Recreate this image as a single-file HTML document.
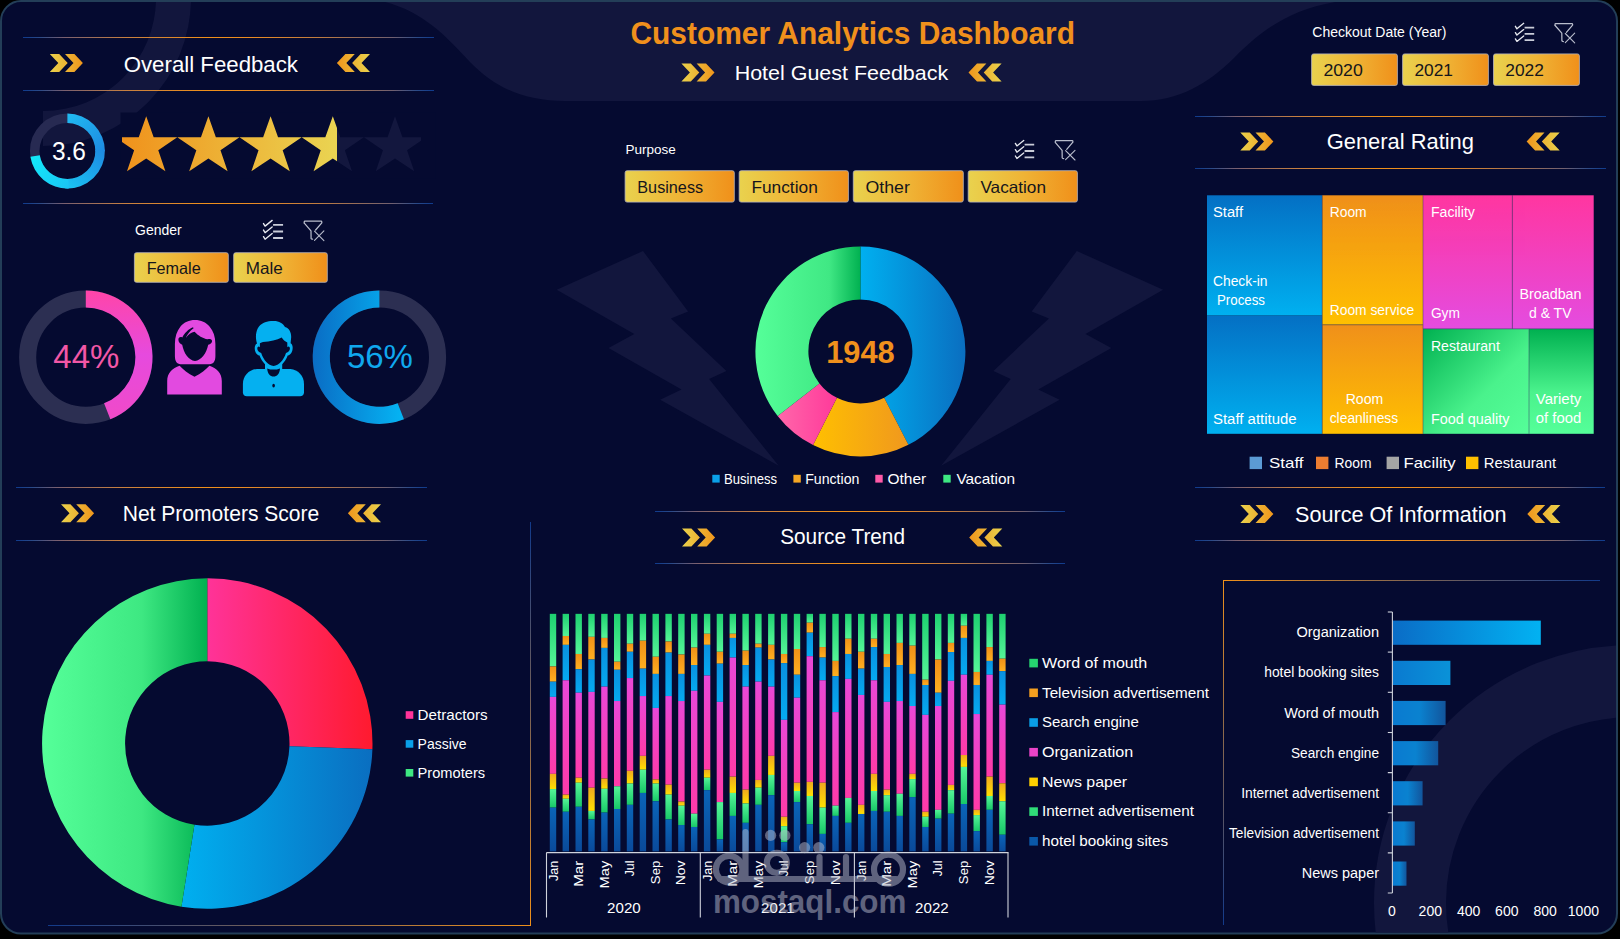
<!DOCTYPE html><html><head><meta charset="utf-8"><style>
html,body{margin:0;padding:0;background:#000;width:1620px;height:939px;overflow:hidden}
svg{display:block;position:absolute;left:0;top:0}
text{font-family:"Liberation Sans",sans-serif}
</style></head><body>
<svg width="1620" height="939" viewBox="0 0 1620 939">
<defs>
<clipPath id="dash"><rect x="2" y="2" width="1614" height="930.6" rx="19"/></clipPath>
<linearGradient id="divg" x1="0" x2="1" y1="0" y2="0">
 <stop offset="0" stop-color="#0f3a8c"/><stop offset="0.04" stop-color="#2a4a88"/><stop offset="0.1" stop-color="#7a6070"/><stop offset="0.25" stop-color="#c88040"/><stop offset="0.45" stop-color="#f0901a"/>
 <stop offset="0.55" stop-color="#ec8c22"/><stop offset="0.72" stop-color="#c07c40"/><stop offset="0.9" stop-color="#706070"/><stop offset="0.96" stop-color="#2a4a88"/><stop offset="1" stop-color="#0f3a8c"/></linearGradient>
<linearGradient id="chevR" x1="0" x2="1"><stop offset="0" stop-color="#ead24c"/><stop offset="1" stop-color="#f0961c"/></linearGradient>
<linearGradient id="chevL" x1="0" x2="1"><stop offset="0" stop-color="#f0961c"/><stop offset="1" stop-color="#ead24c"/></linearGradient>
<linearGradient id="btn" x1="0" x2="1" y1="0" y2="0"><stop offset="0" stop-color="#e9d24e"/><stop offset="0.5" stop-color="#efb436"/><stop offset="1" stop-color="#f0901a"/></linearGradient>
<linearGradient id="starg" gradientUnits="userSpaceOnUse" x1="122" x2="337" y1="0" y2="0"><stop offset="0" stop-color="#f0921c"/><stop offset="1" stop-color="#ead452"/></linearGradient>
<linearGradient id="ring36" gradientUnits="userSpaceOnUse" x1="100" y1="120" x2="35" y2="180"><stop offset="0" stop-color="#1e80e0"/><stop offset="1" stop-color="#14e6fa"/></linearGradient>
<linearGradient id="pinkarc" gradientUnits="userSpaceOnUse" x1="0" y1="290" x2="0" y2="420"><stop offset="0" stop-color="#ff45a8"/><stop offset="0.5" stop-color="#e64ade"/><stop offset="1" stop-color="#f04ac8"/></linearGradient>
<linearGradient id="bluearc" gradientUnits="userSpaceOnUse" x1="312" y1="0" x2="400" y2="0"><stop offset="0" stop-color="#0a6cc4"/><stop offset="1" stop-color="#05b2f2"/></linearGradient>
<linearGradient id="npsRed" gradientUnits="userSpaceOnUse" x1="207" x2="373" y1="0" y2="0"><stop offset="0" stop-color="#ff3399"/><stop offset="1" stop-color="#ff1a2e"/></linearGradient>
<linearGradient id="npsBlue" gradientUnits="userSpaceOnUse" x1="180" x2="373" y1="0" y2="0"><stop offset="0" stop-color="#00b0f0"/><stop offset="1" stop-color="#0a6ec0"/></linearGradient>
<linearGradient id="npsGreen" gradientUnits="userSpaceOnUse" x1="42" x2="208" y1="0" y2="0"><stop offset="0" stop-color="#55ff99"/><stop offset="0.6" stop-color="#3ee882"/><stop offset="1" stop-color="#00b050"/></linearGradient>
<linearGradient id="dBlue" gradientUnits="userSpaceOnUse" x1="860" x2="966" y1="0" y2="0"><stop offset="0" stop-color="#00b0f0"/><stop offset="1" stop-color="#0a6ec0"/></linearGradient>
<linearGradient id="dYel" gradientUnits="userSpaceOnUse" x1="812" x2="908" y1="0" y2="0"><stop offset="0" stop-color="#ffc000"/><stop offset="1" stop-color="#f0981e"/></linearGradient>
<linearGradient id="dPink" gradientUnits="userSpaceOnUse" x1="778" x2="836" y1="0" y2="0"><stop offset="0" stop-color="#ff66aa"/><stop offset="1" stop-color="#ff3a9a"/></linearGradient>
<linearGradient id="dGreen" gradientUnits="userSpaceOnUse" x1="755" x2="861" y1="0" y2="0"><stop offset="0" stop-color="#55ff99"/><stop offset="0.7" stop-color="#40e884"/><stop offset="1" stop-color="#00b050"/></linearGradient>
<linearGradient id="tmBlue" x1="0" x2="0" y1="0" y2="1"><stop offset="0" stop-color="#0470c4"/><stop offset="1" stop-color="#00b0f0"/></linearGradient>
<linearGradient id="tmOrange" x1="0" x2="0" y1="0" y2="1"><stop offset="0" stop-color="#f0901a"/><stop offset="1" stop-color="#ffc000"/></linearGradient>
<linearGradient id="tmPink" x1="0" x2="0" y1="0" y2="1"><stop offset="0" stop-color="#ff36a0"/><stop offset="1" stop-color="#e44ce0"/></linearGradient>
<linearGradient id="tmGreen" x1="0" x2="1" y1="0" y2="1"><stop offset="0" stop-color="#00b050"/><stop offset="0.6" stop-color="#4af28c"/><stop offset="1" stop-color="#55ff99"/></linearGradient>
<linearGradient id="tmGreen2" x1="0" x2="0" y1="0" y2="1"><stop offset="0" stop-color="#00b050"/><stop offset="0.6" stop-color="#4af28c"/><stop offset="1" stop-color="#55ff99"/></linearGradient>
<linearGradient id="frameV" x1="0" x2="0" y1="0" y2="1"><stop offset="0" stop-color="#123a8a"/><stop offset="1" stop-color="#f0901a"/></linearGradient>
<linearGradient id="frameH" x1="0" x2="1" y1="0" y2="0"><stop offset="0" stop-color="#123a8a"/><stop offset="1" stop-color="#f0901a"/></linearGradient>
<linearGradient id="frameV2" x1="0" x2="0" y1="0" y2="1"><stop offset="0" stop-color="#f0901a"/><stop offset="1" stop-color="#123a8a"/></linearGradient>
<linearGradient id="frameH2" x1="0" x2="1" y1="0" y2="0"><stop offset="0" stop-color="#f0901a"/><stop offset="1" stop-color="#123a8a"/></linearGradient>
<linearGradient id="gWoM" x1="0" x2="0" y1="0" y2="1"><stop offset="0" stop-color="#1ed070"/><stop offset="1" stop-color="#55f598"/></linearGradient>
<linearGradient id="gTV" x1="0" x2="0" y1="0" y2="1"><stop offset="0" stop-color="#f09018"/><stop offset="1" stop-color="#ffb020"/></linearGradient>
<linearGradient id="gSE" x1="0" x2="0" y1="0" y2="1"><stop offset="0" stop-color="#0a90e0"/><stop offset="1" stop-color="#05aaf0"/></linearGradient>
<linearGradient id="gOrg" x1="0" x2="0" y1="0" y2="1"><stop offset="0" stop-color="#e848d8"/><stop offset="1" stop-color="#ff3aa8"/></linearGradient>
<linearGradient id="gNP" x1="0" x2="0" y1="0" y2="1"><stop offset="0" stop-color="#f0a820"/><stop offset="1" stop-color="#ffe000"/></linearGradient>
<linearGradient id="gIA" x1="0" x2="0" y1="0" y2="1"><stop offset="0" stop-color="#55f598"/><stop offset="1" stop-color="#18c868"/></linearGradient>
<linearGradient id="gHBS" x1="0" x2="0" y1="0" y2="1"><stop offset="0" stop-color="#0a64b8"/><stop offset="1" stop-color="#0a4a9a"/></linearGradient>
<linearGradient id="soiOrg" gradientUnits="userSpaceOnUse" x1="1392" x2="1541" y1="0" y2="0"><stop offset="0" stop-color="#0a6cc6"/><stop offset="1" stop-color="#02b2f2"/></linearGradient>
<linearGradient id="soiB" x1="0" x2="1" y1="0" y2="0"><stop offset="0" stop-color="#0a7ad0"/><stop offset="0.5" stop-color="#0a82d0"/><stop offset="1" stop-color="#12559c"/></linearGradient>
<linearGradient id="soiB2" x1="0" x2="1" y1="0" y2="0"><stop offset="0" stop-color="#0a7ad0"/><stop offset="1" stop-color="#0a92d8"/></linearGradient>
</defs>
<rect x="1" y="1" width="1616" height="932.6" rx="20" fill="#050a30" stroke="#233e58" stroke-width="2"/>
<g clip-path="url(#dash)">

<path d="M191,-2 A148,148 0 0 1 43,146 L43,111 A113,113 0 0 0 156,-2 Z" fill="#12163d"/>
<path d="M376,0 C420,8 445,35 470,62 C495,88 525,101 565,101 L1141,101 C1178,101 1208,84 1234,58 C1262,30 1292,6 1350,0 Z" fill="#12163d"/>
<polygon points="556.7,289.8 643,251 688.1,311.4 670.9,318.6 726.4,370.9 709.1,379 778.7,465.8 660.2,399.7 681.5,389.6 608.5,347.9 634.3,334.1" fill="#12163d"/>
<polygon points="1163.1,289.8 1076.8,251 1031.7,311.4 1048.9,318.6 993.4,370.9 1010.7,379 941.1,465.8 1059.6,399.7 1038.3,389.6 1111.3,347.9 1085.5,334.1" fill="#12163d"/>
<circle cx="1632" cy="903" r="222" fill="none" stroke="#12163d" stroke-width="72"/>
<rect x="23" y="37" width="411" height="1" fill="url(#divg)"/>
<rect x="23" y="90" width="411" height="1" fill="url(#divg)"/>
<path d="M49.80,54.00 L59.20,54.00 L67.70,63.00 L59.20,72.00 L49.80,72.00 L58.30,63.00 Z M65.00,54.00 L74.40,54.00 L82.90,63.00 L74.40,72.00 L65.00,72.00 L73.50,63.00 Z " fill="url(#chevR)"/>
<text x="123.7" y="71.5" font-size="22.5" fill="#ffffff" textLength="174.3" lengthAdjust="spacingAndGlyphs">Overall Feedback</text>
<path d="M370.00,54.00 L360.60,54.00 L352.10,63.00 L360.60,72.00 L370.00,72.00 L361.50,63.00 Z M354.80,54.00 L345.40,54.00 L336.90,63.00 L345.40,72.00 L354.80,72.00 L346.30,63.00 Z " fill="url(#chevL)"/>
<rect x="23" y="203" width="410" height="1" fill="url(#divg)"/>
<rect x="16" y="487" width="411" height="1" fill="url(#divg)"/>
<rect x="16" y="540" width="411" height="1" fill="url(#divg)"/>
<path d="M61.00,504.20 L70.40,504.20 L78.90,513.20 L70.40,522.20 L61.00,522.20 L69.50,513.20 Z M76.20,504.20 L85.60,504.20 L94.10,513.20 L85.60,522.20 L76.20,522.20 L84.70,513.20 Z " fill="url(#chevR)"/>
<text x="122.7" y="521" font-size="22.5" fill="#ffffff" textLength="196.6" lengthAdjust="spacingAndGlyphs">Net Promoters Score</text>
<path d="M381.00,504.20 L371.60,504.20 L363.10,513.20 L371.60,522.20 L381.00,522.20 L372.50,513.20 Z M365.80,504.20 L356.40,504.20 L347.90,513.20 L356.40,522.20 L365.80,522.20 L357.30,513.20 Z " fill="url(#chevL)"/>
<rect x="655" y="511" width="410" height="1" fill="url(#divg)"/>
<rect x="655" y="563" width="410" height="1" fill="url(#divg)"/>
<path d="M682.00,528.60 L691.40,528.60 L699.90,537.60 L691.40,546.60 L682.00,546.60 L690.50,537.60 Z M697.20,528.60 L706.60,528.60 L715.10,537.60 L706.60,546.60 L697.20,546.60 L705.70,537.60 Z " fill="url(#chevR)"/>
<text x="780.2" y="544.4" font-size="22.5" fill="#ffffff" textLength="124.8" lengthAdjust="spacingAndGlyphs">Source Trend</text>
<path d="M1002.30,528.60 L992.90,528.60 L984.40,537.60 L992.90,546.60 L1002.30,546.60 L993.80,537.60 Z M987.10,528.60 L977.70,528.60 L969.20,537.60 L977.70,546.60 L987.10,546.60 L978.60,537.60 Z " fill="url(#chevL)"/>
<rect x="1195" y="116" width="411" height="1" fill="url(#divg)"/>
<rect x="1195" y="168" width="411" height="1" fill="url(#divg)"/>
<path d="M1240.30,132.60 L1249.70,132.60 L1258.20,141.60 L1249.70,150.60 L1240.30,150.60 L1248.80,141.60 Z M1255.50,132.60 L1264.90,132.60 L1273.40,141.60 L1264.90,150.60 L1255.50,150.60 L1264.00,141.60 Z " fill="url(#chevR)"/>
<text x="1326.7" y="149.4" font-size="22.5" fill="#ffffff" textLength="147.3" lengthAdjust="spacingAndGlyphs">General Rating</text>
<path d="M1559.70,132.60 L1550.30,132.60 L1541.80,141.60 L1550.30,150.60 L1559.70,150.60 L1551.20,141.60 Z M1544.50,132.60 L1535.10,132.60 L1526.60,141.60 L1535.10,150.60 L1544.50,150.60 L1536.00,141.60 Z " fill="url(#chevL)"/>
<rect x="1195" y="487" width="410" height="1" fill="url(#divg)"/>
<rect x="1195" y="540" width="410" height="1" fill="url(#divg)"/>
<path d="M1240.30,505.00 L1249.70,505.00 L1258.20,514.00 L1249.70,523.00 L1240.30,523.00 L1248.80,514.00 Z M1255.50,505.00 L1264.90,505.00 L1273.40,514.00 L1264.90,523.00 L1255.50,523.00 L1264.00,514.00 Z " fill="url(#chevR)"/>
<text x="1295" y="521.5" font-size="22.5" fill="#ffffff" textLength="211.6" lengthAdjust="spacingAndGlyphs">Source Of Information</text>
<path d="M1560.40,505.00 L1551.00,505.00 L1542.50,514.00 L1551.00,523.00 L1560.40,523.00 L1551.90,514.00 Z M1545.20,505.00 L1535.80,505.00 L1527.30,514.00 L1535.80,523.00 L1545.20,523.00 L1536.70,514.00 Z " fill="url(#chevL)"/>
<text x="630.4" y="43.6" font-size="30.5" font-weight="bold" fill="#f0901c" textLength="444.6" lengthAdjust="spacingAndGlyphs">Customer Analytics Dashboard</text>
<path d="M681.40,63.50 L690.80,63.50 L699.30,72.50 L690.80,81.50 L681.40,81.50 L689.90,72.50 Z M696.60,63.50 L706.00,63.50 L714.50,72.50 L706.00,81.50 L696.60,81.50 L705.10,72.50 Z " fill="url(#chevR)"/>
<text x="734.7" y="80.3" font-size="21" fill="#ffffff" textLength="213.5" lengthAdjust="spacingAndGlyphs">Hotel Guest Feedback</text>
<path d="M1001.60,63.50 L992.20,63.50 L983.70,72.50 L992.20,81.50 L1001.60,81.50 L993.10,72.50 Z M986.40,63.50 L977.00,63.50 L968.50,72.50 L977.00,81.50 L986.40,81.50 L977.90,72.50 Z " fill="url(#chevL)"/>
<circle cx="67.4" cy="151.0" r="32.7" fill="none" stroke="#272a52" stroke-width="9.5"/>
<linearGradient id="r36a" gradientUnits="userSpaceOnUse" x1="67" y1="113" x2="105" y2="151"><stop offset="0" stop-color="#20bcf2"/><stop offset="1" stop-color="#1e8ae2"/></linearGradient>
<linearGradient id="r36b" gradientUnits="userSpaceOnUse" x1="105" y1="151" x2="67" y2="189"><stop offset="0" stop-color="#1e8ae2"/><stop offset="1" stop-color="#1ac6f4"/></linearGradient>
<linearGradient id="r36c" gradientUnits="userSpaceOnUse" x1="67" y1="189" x2="30" y2="157"><stop offset="0" stop-color="#1ac6f4"/><stop offset="1" stop-color="#12eafa"/></linearGradient>
<path d="M67.40,113.55 A37.45,37.45 0 0 1 104.85,151.33 L95.35,151.24 A27.95,27.95 0 0 0 67.40,123.05 Z" fill="url(#r36a)"/>
<path d="M104.83,149.69 A37.45,37.45 0 0 1 64.79,188.36 L65.45,178.88 A27.95,27.95 0 0 0 95.33,150.02 Z" fill="url(#r36b)"/>
<path d="M68.71,188.43 A37.45,37.45 0 0 1 30.41,156.86 L39.79,155.37 A27.95,27.95 0 0 0 68.38,178.93 Z" fill="url(#r36c)"/>
<text x="68.9" y="160.1" font-size="26" fill="#ffffff" text-anchor="middle" textLength="34" lengthAdjust="spacingAndGlyphs">3.6</text>
<clipPath id="starclip"><rect x="122" y="100" width="215" height="80"/></clipPath>
<clipPath id="starclip2"><rect x="337" y="100" width="84" height="80"/></clipPath>
<rect x="120.5" y="112.5" width="315" height="66" fill="#050a30"/>
<g clip-path="url(#starclip2)" fill="#13173e"><polygon points="146.20,116.22 153.66,137.13 177.30,137.28 158.27,150.35 165.42,171.36 146.20,158.52 126.98,171.36 134.13,150.35 115.10,137.28 138.74,137.13"/><polygon points="208.40,116.22 215.86,137.13 239.50,137.28 220.47,150.35 227.62,171.36 208.40,158.52 189.18,171.36 196.33,150.35 177.30,137.28 200.94,137.13"/><polygon points="270.60,116.22 278.06,137.13 301.70,137.28 282.67,150.35 289.82,171.36 270.60,158.52 251.38,171.36 258.53,150.35 239.50,137.28 263.14,137.13"/><polygon points="332.80,116.22 340.26,137.13 363.90,137.28 344.87,150.35 352.02,171.36 332.80,158.52 313.58,171.36 320.73,150.35 301.70,137.28 325.34,137.13"/><polygon points="395.00,116.22 402.46,137.13 426.10,137.28 407.07,150.35 414.22,171.36 395.00,158.52 375.78,171.36 382.93,150.35 363.90,137.28 387.54,137.13"/></g>
<g clip-path="url(#starclip)" fill="url(#starg)"><polygon points="146.20,116.22 153.66,137.13 177.30,137.28 158.27,150.35 165.42,171.36 146.20,158.52 126.98,171.36 134.13,150.35 115.10,137.28 138.74,137.13"/><polygon points="208.40,116.22 215.86,137.13 239.50,137.28 220.47,150.35 227.62,171.36 208.40,158.52 189.18,171.36 196.33,150.35 177.30,137.28 200.94,137.13"/><polygon points="270.60,116.22 278.06,137.13 301.70,137.28 282.67,150.35 289.82,171.36 270.60,158.52 251.38,171.36 258.53,150.35 239.50,137.28 263.14,137.13"/><polygon points="332.80,116.22 340.26,137.13 363.90,137.28 344.87,150.35 352.02,171.36 332.80,158.52 313.58,171.36 320.73,150.35 301.70,137.28 325.34,137.13"/><polygon points="395.00,116.22 402.46,137.13 426.10,137.28 407.07,150.35 414.22,171.36 395.00,158.52 375.78,171.36 382.93,150.35 363.90,137.28 387.54,137.13"/></g>
<text x="135" y="235" font-size="14" fill="#ffffff">Gender</text>
<g transform="translate(263.1,220) scale(1.04)" fill="none" stroke-width="1.6"><path d="M0.4,3.40 L1.9,5.90 L8.7,0.40" stroke="#e6e8ef" stroke-width="1.35" stroke-linecap="round" stroke-linejoin="round"/><path d="M9.6,4.70 L19.2,4.70" stroke="#c9ccd8" stroke-width="1.8"/><path d="M0.4,9.70 L1.9,12.20 L8.7,6.70" stroke="#e6e8ef" stroke-width="1.35" stroke-linecap="round" stroke-linejoin="round"/><path d="M9.6,11.00 L19.2,11.00" stroke="#c9ccd8" stroke-width="1.8"/><path d="M0.4,16.00 L1.9,18.50 L8.7,13.00" stroke="#e6e8ef" stroke-width="1.35" stroke-linecap="round" stroke-linejoin="round"/><path d="M9.6,17.30 L19.2,17.30" stroke="#c9ccd8" stroke-width="1.8"/></g>
<g transform="translate(303.6,220.6) scale(1.0)" fill="none" stroke="#b9bdcc" stroke-width="1.25" stroke-linejoin="round" stroke-linecap="round"><path d="M0.6,2.3 L0.6,1.4 Q0.6,0.6 1.4,0.6 L17.4,0.6 Q18.2,0.6 18.2,1.4 L18.2,2.2 L12,9.4"/><path d="M0.7,2.6 L7.4,10.3 L7.5,18 Q7.6,18.6 9,18.6"/><path d="M10.9,10.6 L20.3,20 M20.3,10.3 L10.9,19.7" stroke-width="1.1"/></g>
<rect x="134.4" y="252.70000000000002" width="93.9" height="29.6" rx="2" fill="url(#btn)" stroke="#b9b6bc" stroke-width="0.8"/>
<text x="146.7" y="273.8" font-size="16.5" fill="#15151c" textLength="54" lengthAdjust="spacingAndGlyphs">Female</text>
<rect x="233.70000000000002" y="252.70000000000002" width="93.6" height="29.6" rx="2" fill="url(#btn)" stroke="#b9b6bc" stroke-width="0.8"/>
<text x="245.7" y="273.8" font-size="16.5" fill="#15151c" textLength="37" lengthAdjust="spacingAndGlyphs">Male</text>
<text x="625.6" y="154" font-size="13.5" fill="#ffffff">Purpose</text>
<g transform="translate(1015,140) scale(1.0)" fill="none" stroke-width="1.6"><path d="M0.4,3.40 L1.9,5.90 L8.7,0.40" stroke="#e6e8ef" stroke-width="1.35" stroke-linecap="round" stroke-linejoin="round"/><path d="M9.6,4.70 L19.2,4.70" stroke="#c9ccd8" stroke-width="1.8"/><path d="M0.4,9.70 L1.9,12.20 L8.7,6.70" stroke="#e6e8ef" stroke-width="1.35" stroke-linecap="round" stroke-linejoin="round"/><path d="M9.6,11.00 L19.2,11.00" stroke="#c9ccd8" stroke-width="1.8"/><path d="M0.4,16.00 L1.9,18.50 L8.7,13.00" stroke="#e6e8ef" stroke-width="1.35" stroke-linecap="round" stroke-linejoin="round"/><path d="M9.6,17.30 L19.2,17.30" stroke="#c9ccd8" stroke-width="1.8"/></g>
<g transform="translate(1054.7,140) scale(1.0)" fill="none" stroke="#b9bdcc" stroke-width="1.25" stroke-linejoin="round" stroke-linecap="round"><path d="M0.6,2.3 L0.6,1.4 Q0.6,0.6 1.4,0.6 L17.4,0.6 Q18.2,0.6 18.2,1.4 L18.2,2.2 L12,9.4"/><path d="M0.7,2.6 L7.4,10.3 L7.5,18 Q7.6,18.6 9,18.6"/><path d="M10.9,10.6 L20.3,20 M20.3,10.3 L10.9,19.7" stroke-width="1.1"/></g>
<rect x="625.1" y="170.70000000000002" width="109.2" height="31.4" rx="2" fill="url(#btn)" stroke="#b9b6bc" stroke-width="0.8"/>
<text x="637.3000000000001" y="192.7" font-size="16.5" fill="#15151c" textLength="65.8" lengthAdjust="spacingAndGlyphs">Business</text>
<rect x="739.1999999999999" y="170.70000000000002" width="109.2" height="31.4" rx="2" fill="url(#btn)" stroke="#b9b6bc" stroke-width="0.8"/>
<text x="751.4" y="192.7" font-size="16.5" fill="#15151c" textLength="66.4" lengthAdjust="spacingAndGlyphs">Function</text>
<rect x="853.3" y="170.70000000000002" width="110.0" height="31.4" rx="2" fill="url(#btn)" stroke="#b9b6bc" stroke-width="0.8"/>
<text x="865.5" y="192.7" font-size="16.5" fill="#15151c" textLength="44.4" lengthAdjust="spacingAndGlyphs">Other</text>
<rect x="968.1999999999999" y="170.70000000000002" width="109.2" height="31.4" rx="2" fill="url(#btn)" stroke="#b9b6bc" stroke-width="0.8"/>
<text x="980.4" y="192.7" font-size="16.5" fill="#15151c" textLength="65.6" lengthAdjust="spacingAndGlyphs">Vacation</text>
<text x="1312.3" y="36.8" font-size="14" fill="#ffffff">Checkout Date (Year)</text>
<g transform="translate(1515,22.9) scale(1.0)" fill="none" stroke-width="1.6"><path d="M0.4,3.40 L1.9,5.90 L8.7,0.40" stroke="#e6e8ef" stroke-width="1.35" stroke-linecap="round" stroke-linejoin="round"/><path d="M9.6,4.70 L19.2,4.70" stroke="#c9ccd8" stroke-width="1.8"/><path d="M0.4,9.70 L1.9,12.20 L8.7,6.70" stroke="#e6e8ef" stroke-width="1.35" stroke-linecap="round" stroke-linejoin="round"/><path d="M9.6,11.00 L19.2,11.00" stroke="#c9ccd8" stroke-width="1.8"/><path d="M0.4,16.00 L1.9,18.50 L8.7,13.00" stroke="#e6e8ef" stroke-width="1.35" stroke-linecap="round" stroke-linejoin="round"/><path d="M9.6,17.30 L19.2,17.30" stroke="#c9ccd8" stroke-width="1.8"/></g>
<g transform="translate(1554.4,22.9) scale(1.0)" fill="none" stroke="#b9bdcc" stroke-width="1.25" stroke-linejoin="round" stroke-linecap="round"><path d="M0.6,2.3 L0.6,1.4 Q0.6,0.6 1.4,0.6 L17.4,0.6 Q18.2,0.6 18.2,1.4 L18.2,2.2 L12,9.4"/><path d="M0.7,2.6 L7.4,10.3 L7.5,18 Q7.6,18.6 9,18.6"/><path d="M10.9,10.6 L20.3,20 M20.3,10.3 L10.9,19.7" stroke-width="1.1"/></g>
<rect x="1311.6000000000001" y="53.9" width="85.8" height="31.5" rx="2" fill="url(#btn)" stroke="#b9b6bc" stroke-width="0.8"/>
<text x="1323.4" y="76.0" font-size="16.5" fill="#15151c" textLength="39.4" lengthAdjust="spacingAndGlyphs">2020</text>
<rect x="1402.6000000000001" y="53.9" width="85.8" height="31.5" rx="2" fill="url(#btn)" stroke="#b9b6bc" stroke-width="0.8"/>
<text x="1414.4" y="76.0" font-size="16.5" fill="#15151c" textLength="38.6" lengthAdjust="spacingAndGlyphs">2021</text>
<rect x="1493.5" y="53.9" width="85.9" height="31.5" rx="2" fill="url(#btn)" stroke="#b9b6bc" stroke-width="0.8"/>
<text x="1505.3" y="76.0" font-size="16.5" fill="#15151c" textLength="38.6" lengthAdjust="spacingAndGlyphs">2022</text>
<circle cx="85.8" cy="357.2" r="58.15" fill="none" stroke="#2c2f52" stroke-width="17.1"/>
<path d="M85.80,290.50 A66.7,66.7 0 0 1 110.35,419.22 L104.06,403.32 A49.6,49.6 0 0 0 85.80,307.60 Z" fill="url(#pinkarc)"/>
<text x="86.3" y="368.2" font-size="32.5" fill="#f257a6" text-anchor="middle" textLength="66" lengthAdjust="spacingAndGlyphs">44%</text>
<circle cx="379.4" cy="357.2" r="58.15" fill="none" stroke="#2c2f52" stroke-width="17.1"/>
<path d="M403.95,419.22 A66.7,66.7 0 1 1 379.40,290.50 L379.40,307.60 A49.6,49.6 0 1 0 397.66,403.32 Z" fill="url(#bluearc)"/>
<text x="379.9" y="368.2" font-size="32.5" fill="#10a8ee" text-anchor="middle" textLength="66" lengthAdjust="spacingAndGlyphs">56%</text>
<g fill="#e24ae0">
<path d="M195,320.1 C201,320.1 206,322.5 209.5,326.5 C213.5,331 215.4,337 215.4,344 L215.4,356 C215.4,361 213.5,364.2 209.5,364.2 L180.6,364.2 C176.8,364.2 174.9,361 174.9,356 L174.9,344 C174.9,337 176.8,331 180.5,326.5 C184,322.5 189,320.1 195,320.1 Z"/>
<path d="M179.6,365.7 C183,369.5 188,373.5 194.5,376.7 C201,373.5 206,369.5 209.4,365.7 C216.5,368 221.8,373 221.8,381 L221.8,394.6 L167.2,394.6 L167.2,381 C167.2,373 172.5,368 179.6,365.7 Z"/>
</g>
<path d="M178.4,340 C178.1,337.6 180.3,336.3 182.3,337.4 C184.5,333 188.5,329 193,327.2 L193.6,328.3 C190,330.8 187.3,334.3 185.8,338 C188.5,334.5 191,332.3 194.5,331.8 C198,335.5 203,338.6 207.6,339.3 C210.5,338.2 213,339.6 211.8,342.2 C211,343.8 209.3,344.5 208.2,344.7 C206.5,353 201.5,360.4 195,360.9 C188.5,360.4 183.8,353 182.2,344.7 C180.4,344.2 178.6,342.4 178.4,340 Z" fill="#050a30"/>
<g fill="#05b0f0">
<path d="M273.6,321.1 C279,321 283,323.5 285,327 C289,328 291.2,332 291.2,337 L290.6,343.2 C292.8,344.3 293.2,348 292.2,351 C291.2,354 289.3,355.2 287.7,355.6 C285.2,362.3 280.2,367.8 273.6,368.6 C267,367.8 262,362.3 259.5,355.6 C257.9,355.2 256,354 255.1,351 C254.2,347.5 255,344.3 257,343.4 C255.3,338 255.5,331 259,326.5 C262.5,322.5 267.5,321 273.6,321.1 Z"/>
<rect x="265" y="360" width="17.2" height="12"/>
<path d="M242.9,392.3 L242.9,384 C242.9,376 249,369.5 257,369 L290.4,369 C298,369.5 304,376 304,384 L304,392.3 C304,394.8 302.4,396.3 300,396.3 L246.9,396.3 C244.4,396.3 242.9,394.8 242.9,392.3 Z"/>
</g>
<path d="M263,341.9 C270,341.7 277,340.2 281.7,337.6 C283,339.7 285,341.6 287.3,342.6 L287.3,347.2 C288.4,346 289.9,346.6 289.9,348.6 C289.9,351 288.4,352.4 286,352.9 C283.5,360.3 279,365.3 273.6,365.9 C268.2,365.3 263.7,360.3 261.2,352.9 C258.8,352.4 257.3,351 257.3,348.6 C257.3,346.6 258.8,346 259.9,347.2 L259.9,343.2 C261.2,342.6 262.1,342.1 263,341.9 Z" fill="#050a30"/>
<path d="M267.2,368.4 C269.2,369.3 271.3,369.6 273.6,369.6 C275.9,369.6 278,369.3 280,368.4 C279.6,373.8 277,376.5 273.6,376.5 C270.2,376.5 267.6,373.8 267.2,368.4 Z" fill="#050a30"/>
<ellipse cx="273.6" cy="385.6" rx="1.3" ry="1.9" fill="#050a30"/>
<path d="M207.30,578.30 A165.2,165.2 0 0 1 372.40,749.27 L289.45,746.37 A82.2,82.2 0 0 0 207.30,661.30 Z" fill="url(#npsRed)"/>
<path d="M372.40,749.27 A165.2,165.2 0 0 1 181.46,906.67 L194.44,824.69 A82.2,82.2 0 0 0 289.45,746.37 Z" fill="url(#npsBlue)"/>
<path d="M181.46,906.67 A165.2,165.2 0 0 1 207.30,578.30 L207.30,661.30 A82.2,82.2 0 0 0 194.44,824.69 Z" fill="url(#npsGreen)"/>
<rect x="405.7" y="711.2" width="7.6" height="7.6" fill="#ff3399"/>
<text x="417.6" y="720.2" font-size="15" fill="#ffffff" textLength="70" lengthAdjust="spacingAndGlyphs">Detractors</text>
<rect x="405.7" y="740.1" width="7.6" height="7.6" fill="#0aa0e8"/>
<text x="417.6" y="749.1" font-size="15" fill="#ffffff" textLength="49" lengthAdjust="spacingAndGlyphs">Passive</text>
<rect x="405.7" y="769.0" width="7.6" height="7.6" fill="#3ee882"/>
<text x="417.6" y="778.0" font-size="15" fill="#ffffff" textLength="67.5" lengthAdjust="spacingAndGlyphs">Promoters</text>
<rect x="530" y="522" width="1" height="404" fill="url(#frameV)"/>
<rect x="48" y="925" width="483" height="1" fill="url(#frameH)"/>
<path d="M860.40,246.40 A105,105 0 0 1 908.40,444.79 L884.17,397.65 A52,52 0 0 0 860.40,299.40 Z" fill="url(#dBlue)"/>
<path d="M908.40,444.79 A105,105 0 0 1 813.06,445.12 L836.95,397.81 A52,52 0 0 0 884.17,397.65 Z" fill="url(#dYel)"/>
<path d="M813.06,445.12 A105,105 0 0 1 777.66,416.04 L819.42,383.41 A52,52 0 0 0 836.95,397.81 Z" fill="url(#dPink)"/>
<path d="M777.66,416.04 A105,105 0 0 1 860.40,246.40 L860.40,299.40 A52,52 0 0 0 819.42,383.41 Z" fill="url(#dGreen)"/>
<text x="860.4" y="363" font-size="31.5" font-weight="bold" fill="#f0901c" text-anchor="middle" textLength="68.5" lengthAdjust="spacingAndGlyphs">1948</text>
<rect x="712.3" y="474.8" width="7.4" height="7.8" fill="#0aa0e8"/>
<text x="724.1" y="484" font-size="15" fill="#ffffff" textLength="53" lengthAdjust="spacingAndGlyphs">Business</text>
<rect x="793.4" y="474.8" width="7.4" height="7.8" fill="#f5a623"/>
<text x="805.2" y="484" font-size="15" fill="#ffffff" textLength="54.2" lengthAdjust="spacingAndGlyphs">Function</text>
<rect x="875.3" y="474.8" width="7.4" height="7.8" fill="#ff5aa8"/>
<text x="887.5" y="484" font-size="15" fill="#ffffff" textLength="38.7" lengthAdjust="spacingAndGlyphs">Other</text>
<rect x="943.3" y="474.8" width="7.4" height="7.8" fill="#3ee882"/>
<text x="956.4" y="484" font-size="15" fill="#ffffff" textLength="58.7" lengthAdjust="spacingAndGlyphs">Vacation</text>
<rect x="1207" y="195.3" width="115.2" height="120.3" fill="url(#tmBlue)"/>
<rect x="1207" y="315.6" width="115.2" height="118.2" fill="url(#tmBlue)"/>
<rect x="1322.2" y="195.3" width="100.8" height="129.5" fill="url(#tmOrange)"/>
<rect x="1322.2" y="324.8" width="100.8" height="109.0" fill="url(#tmOrange)"/>
<rect x="1423" y="195.3" width="89.3" height="133.6" fill="url(#tmPink)"/>
<rect x="1512.3" y="195.3" width="81.4" height="133.6" fill="url(#tmPink)"/>
<rect x="1423" y="328.9" width="106.0" height="104.9" fill="url(#tmGreen)"/>
<rect x="1529" y="328.9" width="64.7" height="104.9" fill="url(#tmGreen2)"/>
<g stroke="#3a3a6a" stroke-width="0.8" opacity="0.6"><line x1="1322.2" y1="195.3" x2="1322.2" y2="433.8"/><line x1="1423" y1="195.3" x2="1423" y2="433.8"/><line x1="1512.3" y1="195.3" x2="1512.3" y2="328.9"/><line x1="1529" y1="328.9" x2="1529" y2="433.8"/><line x1="1322.2" y1="324.8" x2="1423" y2="324.8"/><line x1="1423" y1="328.9" x2="1593.7" y2="328.9"/></g>
<text x="1213" y="216.5" font-size="14" fill="#ffffff" textLength="30" lengthAdjust="spacingAndGlyphs">Staff</text>
<text x="1213" y="286" font-size="14" fill="#ffffff" textLength="54.5" lengthAdjust="spacingAndGlyphs">Check-in</text>
<text x="1217" y="305" font-size="14" fill="#ffffff" textLength="48" lengthAdjust="spacingAndGlyphs">Process</text>
<text x="1213" y="423.5" font-size="14" fill="#ffffff" textLength="83.6" lengthAdjust="spacingAndGlyphs">Staff attitude</text>
<text x="1329.7" y="216.5" font-size="14" fill="#ffffff" textLength="37" lengthAdjust="spacingAndGlyphs">Room</text>
<text x="1329.7" y="315" font-size="14" fill="#ffffff" textLength="84.6" lengthAdjust="spacingAndGlyphs">Room service</text>
<text x="1345.7" y="404" font-size="14" fill="#ffffff" textLength="37.5" lengthAdjust="spacingAndGlyphs">Room</text>
<text x="1329.7" y="422.8" font-size="14" fill="#ffffff" textLength="68.5" lengthAdjust="spacingAndGlyphs">cleanliness</text>
<text x="1430.9" y="216.5" font-size="14" fill="#ffffff" textLength="44" lengthAdjust="spacingAndGlyphs">Facility</text>
<text x="1430.9" y="318" font-size="14" fill="#ffffff" textLength="29" lengthAdjust="spacingAndGlyphs">Gym</text>
<text x="1519.5" y="299" font-size="14" fill="#ffffff" textLength="62" lengthAdjust="spacingAndGlyphs">Broadban</text>
<text x="1529" y="318" font-size="14" fill="#ffffff" textLength="42.5" lengthAdjust="spacingAndGlyphs">d &amp; TV</text>
<text x="1430.9" y="351" font-size="14" fill="#ffffff" textLength="69" lengthAdjust="spacingAndGlyphs">Restaurant</text>
<text x="1430.9" y="423.5" font-size="14" fill="#ffffff" textLength="78.6" lengthAdjust="spacingAndGlyphs">Food quality</text>
<text x="1535.8" y="404" font-size="14" fill="#ffffff" textLength="45.5" lengthAdjust="spacingAndGlyphs">Variety</text>
<text x="1535.8" y="422.8" font-size="14" fill="#ffffff" textLength="45.5" lengthAdjust="spacingAndGlyphs">of food</text>
<rect x="1249.6" y="456.7" width="12.4" height="12.4" fill="#5b9bd5"/>
<text x="1269" y="468" font-size="15" fill="#ffffff" textLength="34.5" lengthAdjust="spacingAndGlyphs">Staff</text>
<rect x="1316" y="456.7" width="12.4" height="12.4" fill="#ed7d31"/>
<text x="1334.5" y="468" font-size="15" fill="#ffffff" textLength="37" lengthAdjust="spacingAndGlyphs">Room</text>
<rect x="1386.6" y="456.7" width="12.4" height="12.4" fill="#a5a5a5"/>
<text x="1403.6" y="468" font-size="15" fill="#ffffff" textLength="52" lengthAdjust="spacingAndGlyphs">Facility</text>
<rect x="1466" y="456.7" width="12.4" height="12.4" fill="#ffc000"/>
<text x="1483.7" y="468" font-size="15" fill="#ffffff" textLength="72.5" lengthAdjust="spacingAndGlyphs">Restaurant</text>
<rect x="549.8" y="613.84" width="6.4" height="52.60" fill="url(#gWoM)"/>
<rect x="549.8" y="666.44" width="6.4" height="15.22" fill="url(#gTV)"/>
<rect x="549.8" y="681.66" width="6.4" height="15.22" fill="url(#gSE)"/>
<rect x="549.8" y="696.89" width="6.4" height="76.96" fill="url(#gOrg)"/>
<rect x="549.8" y="773.84" width="6.4" height="15.22" fill="url(#gNP)"/>
<rect x="549.8" y="789.07" width="6.4" height="18.55" fill="url(#gIA)"/>
<rect x="549.8" y="807.61" width="6.4" height="43.74" fill="url(#gHBS)"/>
<rect x="562.6" y="613.84" width="6.4" height="22.15" fill="url(#gWoM)"/>
<rect x="562.6" y="635.99" width="6.4" height="8.86" fill="url(#gTV)"/>
<rect x="562.6" y="644.84" width="6.4" height="35.43" fill="url(#gSE)"/>
<rect x="562.6" y="680.28" width="6.4" height="114.33" fill="url(#gOrg)"/>
<rect x="562.6" y="794.60" width="6.4" height="4.15" fill="url(#gNP)"/>
<rect x="562.6" y="798.75" width="6.4" height="13.01" fill="url(#gIA)"/>
<rect x="562.6" y="811.76" width="6.4" height="39.58" fill="url(#gHBS)"/>
<rect x="575.5" y="613.84" width="6.4" height="40.14" fill="url(#gWoM)"/>
<rect x="575.5" y="653.98" width="6.4" height="15.22" fill="url(#gTV)"/>
<rect x="575.5" y="669.20" width="6.4" height="23.53" fill="url(#gSE)"/>
<rect x="575.5" y="692.73" width="6.4" height="84.98" fill="url(#gOrg)"/>
<rect x="575.5" y="777.72" width="6.4" height="4.98" fill="url(#gNP)"/>
<rect x="575.5" y="782.70" width="6.4" height="24.08" fill="url(#gIA)"/>
<rect x="575.5" y="806.78" width="6.4" height="44.57" fill="url(#gHBS)"/>
<rect x="588.3" y="613.84" width="6.4" height="22.98" fill="url(#gWoM)"/>
<rect x="588.3" y="636.82" width="6.4" height="22.70" fill="url(#gTV)"/>
<rect x="588.3" y="659.52" width="6.4" height="32.39" fill="url(#gSE)"/>
<rect x="588.3" y="691.90" width="6.4" height="95.78" fill="url(#gOrg)"/>
<rect x="588.3" y="787.68" width="6.4" height="23.25" fill="url(#gNP)"/>
<rect x="588.3" y="810.93" width="6.4" height="8.58" fill="url(#gIA)"/>
<rect x="588.3" y="819.52" width="6.4" height="31.83" fill="url(#gHBS)"/>
<rect x="601.2" y="613.84" width="6.4" height="24.08" fill="url(#gWoM)"/>
<rect x="601.2" y="637.92" width="6.4" height="9.97" fill="url(#gTV)"/>
<rect x="601.2" y="647.89" width="6.4" height="38.75" fill="url(#gSE)"/>
<rect x="601.2" y="686.64" width="6.4" height="91.90" fill="url(#gOrg)"/>
<rect x="601.2" y="778.55" width="6.4" height="10.24" fill="url(#gNP)"/>
<rect x="601.2" y="788.79" width="6.4" height="23.81" fill="url(#gIA)"/>
<rect x="601.2" y="812.60" width="6.4" height="38.75" fill="url(#gHBS)"/>
<rect x="614.0" y="613.84" width="6.4" height="47.89" fill="url(#gWoM)"/>
<rect x="614.0" y="661.73" width="6.4" height="8.03" fill="url(#gTV)"/>
<rect x="614.0" y="669.76" width="6.4" height="31.28" fill="url(#gSE)"/>
<rect x="614.0" y="701.04" width="6.4" height="85.26" fill="url(#gOrg)"/>
<rect x="614.0" y="786.30" width="6.4" height="22.70" fill="url(#gIA)"/>
<rect x="614.0" y="809.00" width="6.4" height="42.35" fill="url(#gHBS)"/>
<rect x="626.8" y="613.84" width="6.4" height="29.90" fill="url(#gWoM)"/>
<rect x="626.8" y="643.74" width="6.4" height="8.03" fill="url(#gTV)"/>
<rect x="626.8" y="651.76" width="6.4" height="26.30" fill="url(#gSE)"/>
<rect x="626.8" y="678.06" width="6.4" height="92.73" fill="url(#gOrg)"/>
<rect x="626.8" y="770.80" width="6.4" height="12.73" fill="url(#gNP)"/>
<rect x="626.8" y="783.53" width="6.4" height="21.31" fill="url(#gIA)"/>
<rect x="626.8" y="804.84" width="6.4" height="46.51" fill="url(#gHBS)"/>
<rect x="639.7" y="613.84" width="6.4" height="26.85" fill="url(#gWoM)"/>
<rect x="639.7" y="640.69" width="6.4" height="27.96" fill="url(#gTV)"/>
<rect x="639.7" y="668.65" width="6.4" height="27.40" fill="url(#gSE)"/>
<rect x="639.7" y="696.06" width="6.4" height="59.79" fill="url(#gOrg)"/>
<rect x="639.7" y="755.85" width="6.4" height="13.84" fill="url(#gNP)"/>
<rect x="639.7" y="769.69" width="6.4" height="23.25" fill="url(#gIA)"/>
<rect x="639.7" y="792.94" width="6.4" height="58.41" fill="url(#gHBS)"/>
<rect x="652.5" y="613.84" width="6.4" height="42.91" fill="url(#gWoM)"/>
<rect x="652.5" y="656.75" width="6.4" height="17.16" fill="url(#gTV)"/>
<rect x="652.5" y="673.91" width="6.4" height="34.05" fill="url(#gSE)"/>
<rect x="652.5" y="707.96" width="6.4" height="71.42" fill="url(#gOrg)"/>
<rect x="652.5" y="779.38" width="6.4" height="4.15" fill="url(#gNP)"/>
<rect x="652.5" y="783.53" width="6.4" height="17.72" fill="url(#gIA)"/>
<rect x="652.5" y="801.25" width="6.4" height="50.10" fill="url(#gHBS)"/>
<rect x="665.4" y="613.84" width="6.4" height="27.68" fill="url(#gWoM)"/>
<rect x="665.4" y="641.52" width="6.4" height="11.07" fill="url(#gTV)"/>
<rect x="665.4" y="652.60" width="6.4" height="43.46" fill="url(#gSE)"/>
<rect x="665.4" y="696.06" width="6.4" height="88.58" fill="url(#gOrg)"/>
<rect x="665.4" y="784.64" width="6.4" height="9.97" fill="url(#gNP)"/>
<rect x="665.4" y="794.60" width="6.4" height="24.91" fill="url(#gIA)"/>
<rect x="665.4" y="819.52" width="6.4" height="31.83" fill="url(#gHBS)"/>
<rect x="678.2" y="613.84" width="6.4" height="40.69" fill="url(#gWoM)"/>
<rect x="678.2" y="654.53" width="6.4" height="19.38" fill="url(#gTV)"/>
<rect x="678.2" y="673.91" width="6.4" height="27.13" fill="url(#gSE)"/>
<rect x="678.2" y="701.04" width="6.4" height="100.48" fill="url(#gOrg)"/>
<rect x="678.2" y="801.52" width="6.4" height="4.15" fill="url(#gNP)"/>
<rect x="678.2" y="805.67" width="6.4" height="19.38" fill="url(#gIA)"/>
<rect x="678.2" y="825.05" width="6.4" height="26.30" fill="url(#gHBS)"/>
<rect x="691.0" y="613.84" width="6.4" height="33.77" fill="url(#gWoM)"/>
<rect x="691.0" y="647.61" width="6.4" height="17.44" fill="url(#gTV)"/>
<rect x="691.0" y="665.05" width="6.4" height="25.74" fill="url(#gSE)"/>
<rect x="691.0" y="690.80" width="6.4" height="122.91" fill="url(#gOrg)"/>
<rect x="691.0" y="813.70" width="6.4" height="13.29" fill="url(#gIA)"/>
<rect x="691.0" y="826.99" width="6.4" height="24.36" fill="url(#gHBS)"/>
<rect x="703.9" y="613.84" width="6.4" height="19.93" fill="url(#gWoM)"/>
<rect x="703.9" y="633.77" width="6.4" height="11.07" fill="url(#gTV)"/>
<rect x="703.9" y="644.84" width="6.4" height="30.73" fill="url(#gSE)"/>
<rect x="703.9" y="675.57" width="6.4" height="94.12" fill="url(#gOrg)"/>
<rect x="703.9" y="769.69" width="6.4" height="8.03" fill="url(#gNP)"/>
<rect x="703.9" y="777.72" width="6.4" height="12.46" fill="url(#gIA)"/>
<rect x="703.9" y="790.17" width="6.4" height="61.18" fill="url(#gHBS)"/>
<rect x="716.7" y="613.84" width="6.4" height="37.92" fill="url(#gWoM)"/>
<rect x="716.7" y="651.76" width="6.4" height="11.90" fill="url(#gTV)"/>
<rect x="716.7" y="663.67" width="6.4" height="38.20" fill="url(#gSE)"/>
<rect x="716.7" y="701.87" width="6.4" height="100.21" fill="url(#gOrg)"/>
<rect x="716.7" y="802.08" width="6.4" height="37.37" fill="url(#gIA)"/>
<rect x="716.7" y="839.45" width="6.4" height="11.90" fill="url(#gHBS)"/>
<rect x="729.6" y="613.84" width="6.4" height="19.93" fill="url(#gWoM)"/>
<rect x="729.6" y="633.77" width="6.4" height="4.15" fill="url(#gTV)"/>
<rect x="729.6" y="637.92" width="6.4" height="19.65" fill="url(#gSE)"/>
<rect x="729.6" y="657.58" width="6.4" height="119.03" fill="url(#gOrg)"/>
<rect x="729.6" y="776.61" width="6.4" height="16.33" fill="url(#gNP)"/>
<rect x="729.6" y="792.94" width="6.4" height="22.98" fill="url(#gIA)"/>
<rect x="729.6" y="815.92" width="6.4" height="35.43" fill="url(#gHBS)"/>
<rect x="742.4" y="613.84" width="6.4" height="36.82" fill="url(#gWoM)"/>
<rect x="742.4" y="650.66" width="6.4" height="14.39" fill="url(#gTV)"/>
<rect x="742.4" y="665.05" width="6.4" height="21.59" fill="url(#gSE)"/>
<rect x="742.4" y="686.64" width="6.4" height="102.98" fill="url(#gOrg)"/>
<rect x="742.4" y="789.62" width="6.4" height="13.84" fill="url(#gNP)"/>
<rect x="742.4" y="803.46" width="6.4" height="19.38" fill="url(#gIA)"/>
<rect x="742.4" y="822.84" width="6.4" height="28.51" fill="url(#gHBS)"/>
<rect x="755.2" y="613.84" width="6.4" height="29.90" fill="url(#gWoM)"/>
<rect x="755.2" y="643.74" width="6.4" height="3.88" fill="url(#gTV)"/>
<rect x="755.2" y="647.61" width="6.4" height="34.05" fill="url(#gSE)"/>
<rect x="755.2" y="681.66" width="6.4" height="98.27" fill="url(#gOrg)"/>
<rect x="755.2" y="779.93" width="6.4" height="7.75" fill="url(#gNP)"/>
<rect x="755.2" y="787.68" width="6.4" height="17.16" fill="url(#gIA)"/>
<rect x="755.2" y="804.84" width="6.4" height="46.51" fill="url(#gHBS)"/>
<rect x="768.1" y="613.84" width="6.4" height="31.00" fill="url(#gWoM)"/>
<rect x="768.1" y="644.84" width="6.4" height="14.67" fill="url(#gTV)"/>
<rect x="768.1" y="659.52" width="6.4" height="27.13" fill="url(#gSE)"/>
<rect x="768.1" y="686.64" width="6.4" height="69.20" fill="url(#gOrg)"/>
<rect x="768.1" y="755.85" width="6.4" height="19.10" fill="url(#gNP)"/>
<rect x="768.1" y="774.95" width="6.4" height="20.21" fill="url(#gIA)"/>
<rect x="768.1" y="795.16" width="6.4" height="56.19" fill="url(#gHBS)"/>
<rect x="780.9" y="613.84" width="6.4" height="40.14" fill="url(#gWoM)"/>
<rect x="780.9" y="653.98" width="6.4" height="9.13" fill="url(#gTV)"/>
<rect x="780.9" y="663.11" width="6.4" height="56.75" fill="url(#gSE)"/>
<rect x="780.9" y="719.86" width="6.4" height="96.89" fill="url(#gOrg)"/>
<rect x="780.9" y="816.75" width="6.4" height="9.41" fill="url(#gNP)"/>
<rect x="780.9" y="826.16" width="6.4" height="16.06" fill="url(#gIA)"/>
<rect x="780.9" y="842.21" width="6.4" height="9.13" fill="url(#gHBS)"/>
<rect x="793.8" y="613.84" width="6.4" height="35.16" fill="url(#gWoM)"/>
<rect x="793.8" y="649.00" width="6.4" height="25.74" fill="url(#gTV)"/>
<rect x="793.8" y="674.74" width="6.4" height="22.98" fill="url(#gSE)"/>
<rect x="793.8" y="697.72" width="6.4" height="84.98" fill="url(#gOrg)"/>
<rect x="793.8" y="782.70" width="6.4" height="8.30" fill="url(#gNP)"/>
<rect x="793.8" y="791.00" width="6.4" height="11.07" fill="url(#gIA)"/>
<rect x="793.8" y="802.08" width="6.4" height="49.27" fill="url(#gHBS)"/>
<rect x="806.6" y="613.84" width="6.4" height="8.86" fill="url(#gWoM)"/>
<rect x="806.6" y="622.70" width="6.4" height="9.97" fill="url(#gTV)"/>
<rect x="806.6" y="632.66" width="6.4" height="23.53" fill="url(#gSE)"/>
<rect x="806.6" y="656.19" width="6.4" height="125.67" fill="url(#gOrg)"/>
<rect x="806.6" y="781.87" width="6.4" height="14.12" fill="url(#gNP)"/>
<rect x="806.6" y="795.99" width="6.4" height="28.24" fill="url(#gIA)"/>
<rect x="806.6" y="824.22" width="6.4" height="27.13" fill="url(#gHBS)"/>
<rect x="819.4" y="613.84" width="6.4" height="33.22" fill="url(#gWoM)"/>
<rect x="819.4" y="647.06" width="6.4" height="10.52" fill="url(#gTV)"/>
<rect x="819.4" y="657.58" width="6.4" height="22.70" fill="url(#gSE)"/>
<rect x="819.4" y="680.28" width="6.4" height="102.42" fill="url(#gOrg)"/>
<rect x="819.4" y="782.70" width="6.4" height="24.91" fill="url(#gNP)"/>
<rect x="819.4" y="807.61" width="6.4" height="26.30" fill="url(#gIA)"/>
<rect x="819.4" y="833.91" width="6.4" height="17.44" fill="url(#gHBS)"/>
<rect x="832.3" y="613.84" width="6.4" height="47.06" fill="url(#gWoM)"/>
<rect x="832.3" y="660.90" width="6.4" height="15.22" fill="url(#gTV)"/>
<rect x="832.3" y="676.12" width="6.4" height="35.99" fill="url(#gSE)"/>
<rect x="832.3" y="712.11" width="6.4" height="93.56" fill="url(#gOrg)"/>
<rect x="832.3" y="805.67" width="6.4" height="10.24" fill="url(#gIA)"/>
<rect x="832.3" y="815.92" width="6.4" height="35.43" fill="url(#gHBS)"/>
<rect x="845.1" y="613.84" width="6.4" height="24.91" fill="url(#gWoM)"/>
<rect x="845.1" y="638.75" width="6.4" height="15.22" fill="url(#gTV)"/>
<rect x="845.1" y="653.98" width="6.4" height="24.91" fill="url(#gSE)"/>
<rect x="845.1" y="678.89" width="6.4" height="119.03" fill="url(#gOrg)"/>
<rect x="845.1" y="797.92" width="6.4" height="24.91" fill="url(#gIA)"/>
<rect x="845.1" y="822.84" width="6.4" height="28.51" fill="url(#gHBS)"/>
<rect x="858.0" y="613.84" width="6.4" height="37.92" fill="url(#gWoM)"/>
<rect x="858.0" y="651.76" width="6.4" height="16.89" fill="url(#gTV)"/>
<rect x="858.0" y="668.65" width="6.4" height="26.30" fill="url(#gSE)"/>
<rect x="858.0" y="694.95" width="6.4" height="109.90" fill="url(#gOrg)"/>
<rect x="858.0" y="804.84" width="6.4" height="9.13" fill="url(#gNP)"/>
<rect x="858.0" y="813.98" width="6.4" height="37.37" fill="url(#gHBS)"/>
<rect x="870.8" y="613.84" width="6.4" height="24.91" fill="url(#gWoM)"/>
<rect x="870.8" y="638.75" width="6.4" height="8.30" fill="url(#gTV)"/>
<rect x="870.8" y="647.06" width="6.4" height="33.22" fill="url(#gSE)"/>
<rect x="870.8" y="680.28" width="6.4" height="93.56" fill="url(#gOrg)"/>
<rect x="870.8" y="773.84" width="6.4" height="17.16" fill="url(#gNP)"/>
<rect x="870.8" y="791.00" width="6.4" height="19.93" fill="url(#gIA)"/>
<rect x="870.8" y="810.93" width="6.4" height="40.42" fill="url(#gHBS)"/>
<rect x="883.6" y="613.84" width="6.4" height="40.14" fill="url(#gWoM)"/>
<rect x="883.6" y="653.98" width="6.4" height="13.01" fill="url(#gTV)"/>
<rect x="883.6" y="666.99" width="6.4" height="34.88" fill="url(#gSE)"/>
<rect x="883.6" y="701.87" width="6.4" height="87.75" fill="url(#gOrg)"/>
<rect x="883.6" y="789.62" width="6.4" height="5.54" fill="url(#gNP)"/>
<rect x="883.6" y="795.16" width="6.4" height="16.61" fill="url(#gIA)"/>
<rect x="883.6" y="811.76" width="6.4" height="39.58" fill="url(#gHBS)"/>
<rect x="896.5" y="613.84" width="6.4" height="29.07" fill="url(#gWoM)"/>
<rect x="896.5" y="642.91" width="6.4" height="22.15" fill="url(#gTV)"/>
<rect x="896.5" y="665.05" width="6.4" height="35.99" fill="url(#gSE)"/>
<rect x="896.5" y="701.04" width="6.4" height="92.73" fill="url(#gOrg)"/>
<rect x="896.5" y="793.77" width="6.4" height="22.15" fill="url(#gIA)"/>
<rect x="896.5" y="815.92" width="6.4" height="35.43" fill="url(#gHBS)"/>
<rect x="909.3" y="613.84" width="6.4" height="31.83" fill="url(#gWoM)"/>
<rect x="909.3" y="645.67" width="6.4" height="28.24" fill="url(#gTV)"/>
<rect x="909.3" y="673.91" width="6.4" height="32.11" fill="url(#gSE)"/>
<rect x="909.3" y="706.02" width="6.4" height="67.82" fill="url(#gOrg)"/>
<rect x="909.3" y="773.84" width="6.4" height="5.26" fill="url(#gNP)"/>
<rect x="909.3" y="779.10" width="6.4" height="17.99" fill="url(#gIA)"/>
<rect x="909.3" y="797.09" width="6.4" height="54.26" fill="url(#gHBS)"/>
<rect x="922.2" y="613.84" width="6.4" height="65.88" fill="url(#gWoM)"/>
<rect x="922.2" y="679.72" width="6.4" height="5.26" fill="url(#gTV)"/>
<rect x="922.2" y="684.98" width="6.4" height="29.90" fill="url(#gSE)"/>
<rect x="922.2" y="714.88" width="6.4" height="96.89" fill="url(#gOrg)"/>
<rect x="922.2" y="811.76" width="6.4" height="4.98" fill="url(#gNP)"/>
<rect x="922.2" y="816.75" width="6.4" height="10.24" fill="url(#gIA)"/>
<rect x="922.2" y="826.99" width="6.4" height="24.36" fill="url(#gHBS)"/>
<rect x="935.0" y="613.84" width="6.4" height="45.67" fill="url(#gWoM)"/>
<rect x="935.0" y="659.52" width="6.4" height="33.22" fill="url(#gTV)"/>
<rect x="935.0" y="692.73" width="6.4" height="13.29" fill="url(#gSE)"/>
<rect x="935.0" y="706.02" width="6.4" height="103.81" fill="url(#gOrg)"/>
<rect x="935.0" y="809.83" width="6.4" height="8.86" fill="url(#gIA)"/>
<rect x="935.0" y="818.69" width="6.4" height="32.66" fill="url(#gHBS)"/>
<rect x="947.8" y="613.84" width="6.4" height="29.07" fill="url(#gWoM)"/>
<rect x="947.8" y="642.91" width="6.4" height="9.13" fill="url(#gTV)"/>
<rect x="947.8" y="652.04" width="6.4" height="28.79" fill="url(#gSE)"/>
<rect x="947.8" y="680.83" width="6.4" height="104.08" fill="url(#gOrg)"/>
<rect x="947.8" y="784.91" width="6.4" height="5.26" fill="url(#gNP)"/>
<rect x="947.8" y="790.17" width="6.4" height="23.53" fill="url(#gIA)"/>
<rect x="947.8" y="813.70" width="6.4" height="37.65" fill="url(#gHBS)"/>
<rect x="960.7" y="613.84" width="6.4" height="11.90" fill="url(#gWoM)"/>
<rect x="960.7" y="625.74" width="6.4" height="12.18" fill="url(#gTV)"/>
<rect x="960.7" y="637.92" width="6.4" height="36.82" fill="url(#gSE)"/>
<rect x="960.7" y="674.74" width="6.4" height="80.28" fill="url(#gOrg)"/>
<rect x="960.7" y="755.02" width="6.4" height="11.90" fill="url(#gNP)"/>
<rect x="960.7" y="766.92" width="6.4" height="37.09" fill="url(#gIA)"/>
<rect x="960.7" y="804.01" width="6.4" height="47.34" fill="url(#gHBS)"/>
<rect x="973.5" y="613.84" width="6.4" height="58.13" fill="url(#gWoM)"/>
<rect x="973.5" y="671.97" width="6.4" height="13.01" fill="url(#gTV)"/>
<rect x="973.5" y="684.98" width="6.4" height="29.07" fill="url(#gSE)"/>
<rect x="973.5" y="714.05" width="6.4" height="95.78" fill="url(#gOrg)"/>
<rect x="973.5" y="809.83" width="6.4" height="5.26" fill="url(#gNP)"/>
<rect x="973.5" y="815.09" width="6.4" height="16.06" fill="url(#gIA)"/>
<rect x="973.5" y="831.14" width="6.4" height="20.21" fill="url(#gHBS)"/>
<rect x="986.4" y="613.84" width="6.4" height="33.22" fill="url(#gWoM)"/>
<rect x="986.4" y="647.06" width="6.4" height="13.84" fill="url(#gTV)"/>
<rect x="986.4" y="660.90" width="6.4" height="13.84" fill="url(#gSE)"/>
<rect x="986.4" y="674.74" width="6.4" height="101.87" fill="url(#gOrg)"/>
<rect x="986.4" y="776.61" width="6.4" height="19.38" fill="url(#gNP)"/>
<rect x="986.4" y="795.99" width="6.4" height="13.84" fill="url(#gIA)"/>
<rect x="986.4" y="809.83" width="6.4" height="41.52" fill="url(#gHBS)"/>
<rect x="999.2" y="613.84" width="6.4" height="44.84" fill="url(#gWoM)"/>
<rect x="999.2" y="658.69" width="6.4" height="12.46" fill="url(#gTV)"/>
<rect x="999.2" y="671.14" width="6.4" height="33.49" fill="url(#gSE)"/>
<rect x="999.2" y="704.64" width="6.4" height="78.62" fill="url(#gOrg)"/>
<rect x="999.2" y="783.25" width="6.4" height="17.99" fill="url(#gNP)"/>
<rect x="999.2" y="801.25" width="6.4" height="33.49" fill="url(#gIA)"/>
<rect x="999.2" y="834.74" width="6.4" height="16.61" fill="url(#gHBS)"/>
<g stroke="#d0d3dc" stroke-width="1.1" fill="none"><line x1="546.5" y1="852.6" x2="1008.5" y2="852.6"/>
<line x1="546.5" y1="852.6" x2="546.5" y2="917.6"/>
<line x1="700.3" y1="852.6" x2="700.3" y2="917.6"/>
<line x1="854.4" y1="852.6" x2="854.4" y2="917.6"/>
<line x1="1008" y1="852.6" x2="1008" y2="917.6"/>
</g>
<text transform="translate(557.6,881.1) rotate(-90)" font-size="13.5" fill="#ffffff" textLength="20.5" lengthAdjust="spacingAndGlyphs">Jan</text>
<text transform="translate(583.2,886.8) rotate(-90)" font-size="13.5" fill="#ffffff" textLength="26.2" lengthAdjust="spacingAndGlyphs">Mar</text>
<text transform="translate(608.7,888.4) rotate(-90)" font-size="13.5" fill="#ffffff" textLength="27.8" lengthAdjust="spacingAndGlyphs">May</text>
<text transform="translate(634.3,876.3) rotate(-90)" font-size="13.5" fill="#ffffff" textLength="15.7" lengthAdjust="spacingAndGlyphs">Jul</text>
<text transform="translate(659.8,884.2) rotate(-90)" font-size="13.5" fill="#ffffff" textLength="23.6" lengthAdjust="spacingAndGlyphs">Sep</text>
<text transform="translate(685.4,885.3) rotate(-90)" font-size="13.5" fill="#ffffff" textLength="24.7" lengthAdjust="spacingAndGlyphs">Nov</text>
<text x="623.9" y="912.7" font-size="15" fill="#ffffff" text-anchor="middle" textLength="33.6" lengthAdjust="spacingAndGlyphs">2020</text>
<text transform="translate(711.7,881.1) rotate(-90)" font-size="13.5" fill="#ffffff" textLength="20.5" lengthAdjust="spacingAndGlyphs">Jan</text>
<text transform="translate(737.2,886.8) rotate(-90)" font-size="13.5" fill="#ffffff" textLength="26.2" lengthAdjust="spacingAndGlyphs">Mar</text>
<text transform="translate(762.8,888.4) rotate(-90)" font-size="13.5" fill="#ffffff" textLength="27.8" lengthAdjust="spacingAndGlyphs">May</text>
<text transform="translate(788.4,876.3) rotate(-90)" font-size="13.5" fill="#ffffff" textLength="15.7" lengthAdjust="spacingAndGlyphs">Jul</text>
<text transform="translate(813.9,884.2) rotate(-90)" font-size="13.5" fill="#ffffff" textLength="23.6" lengthAdjust="spacingAndGlyphs">Sep</text>
<text transform="translate(839.5,885.3) rotate(-90)" font-size="13.5" fill="#ffffff" textLength="24.7" lengthAdjust="spacingAndGlyphs">Nov</text>
<text x="777.9" y="912.7" font-size="15" fill="#ffffff" text-anchor="middle" textLength="33.6" lengthAdjust="spacingAndGlyphs">2021</text>
<text transform="translate(865.8,881.1) rotate(-90)" font-size="13.5" fill="#ffffff" textLength="20.5" lengthAdjust="spacingAndGlyphs">Jan</text>
<text transform="translate(891.3,886.8) rotate(-90)" font-size="13.5" fill="#ffffff" textLength="26.2" lengthAdjust="spacingAndGlyphs">Mar</text>
<text transform="translate(916.9,888.4) rotate(-90)" font-size="13.5" fill="#ffffff" textLength="27.8" lengthAdjust="spacingAndGlyphs">May</text>
<text transform="translate(942.4,876.3) rotate(-90)" font-size="13.5" fill="#ffffff" textLength="15.7" lengthAdjust="spacingAndGlyphs">Jul</text>
<text transform="translate(968.0,884.2) rotate(-90)" font-size="13.5" fill="#ffffff" textLength="23.6" lengthAdjust="spacingAndGlyphs">Sep</text>
<text transform="translate(993.6,885.3) rotate(-90)" font-size="13.5" fill="#ffffff" textLength="24.7" lengthAdjust="spacingAndGlyphs">Nov</text>
<text x="931.9" y="912.7" font-size="15" fill="#ffffff" text-anchor="middle" textLength="33.6" lengthAdjust="spacingAndGlyphs">2022</text>
<rect x="1029.3" y="658.8" width="8.6" height="8.6" fill="#26d470"/>
<text x="1042" y="667.9" font-size="15" fill="#ffffff" textLength="105.2" lengthAdjust="spacingAndGlyphs">Word of mouth</text>
<rect x="1029.3" y="688.5" width="8.6" height="8.6" fill="#f5a020"/>
<text x="1042" y="697.6" font-size="15" fill="#ffffff" textLength="167" lengthAdjust="spacingAndGlyphs">Television advertisement</text>
<rect x="1029.3" y="718.2" width="8.6" height="8.6" fill="#0a9ee6"/>
<text x="1042" y="727.3" font-size="15" fill="#ffffff" textLength="96.8" lengthAdjust="spacingAndGlyphs">Search engine</text>
<rect x="1029.3" y="747.9" width="8.6" height="8.6" fill="#ec44c8"/>
<text x="1042" y="757.0" font-size="15" fill="#ffffff" textLength="91.2" lengthAdjust="spacingAndGlyphs">Organization</text>
<rect x="1029.3" y="777.6" width="8.6" height="8.6" fill="#ffd000"/>
<text x="1042" y="786.7" font-size="15" fill="#ffffff" textLength="85.1" lengthAdjust="spacingAndGlyphs">News paper</text>
<rect x="1029.3" y="807.3" width="8.6" height="8.6" fill="#30dc78"/>
<text x="1042" y="816.4" font-size="15" fill="#ffffff" textLength="152" lengthAdjust="spacingAndGlyphs">Internet advertisement</text>
<rect x="1029.3" y="837.0" width="8.6" height="8.6" fill="#0a58a8"/>
<text x="1042" y="846.1" font-size="15" fill="#ffffff" textLength="126.2" lengthAdjust="spacingAndGlyphs">hotel booking sites</text>
<rect x="1223" y="580" width="377" height="1" fill="url(#frameH2)"/>
<rect x="1223" y="580" width="1" height="345" fill="url(#frameV2)"/>
<rect x="1393" y="620.6" width="147.8" height="24.2" fill="url(#soiOrg)"/>
<text x="1296.4" y="637.3" font-size="14" fill="#ffffff" textLength="82.6" lengthAdjust="spacingAndGlyphs">Organization</text>
<rect x="1393" y="660.8" width="57.4" height="24.2" fill="url(#soiB2)"/>
<text x="1264.2" y="677.4" font-size="14" fill="#ffffff" textLength="114.8" lengthAdjust="spacingAndGlyphs">hotel booking sites</text>
<rect x="1393" y="700.9" width="52.6" height="24.2" fill="url(#soiB)"/>
<text x="1284.2" y="717.6" font-size="14" fill="#ffffff" textLength="94.8" lengthAdjust="spacingAndGlyphs">Word of mouth</text>
<rect x="1393" y="741.1" width="45.2" height="24.2" fill="url(#soiB)"/>
<text x="1291" y="757.8" font-size="14" fill="#ffffff" textLength="88" lengthAdjust="spacingAndGlyphs">Search engine</text>
<rect x="1393" y="781.2" width="29.6" height="24.2" fill="url(#soiB)"/>
<text x="1241.2" y="797.9" font-size="14" fill="#ffffff" textLength="137.8" lengthAdjust="spacingAndGlyphs">Internet advertisement</text>
<rect x="1393" y="821.4" width="21.8" height="24.2" fill="url(#soiB)"/>
<text x="1229" y="838.0" font-size="14" fill="#ffffff" textLength="150" lengthAdjust="spacingAndGlyphs">Television advertisement</text>
<rect x="1393" y="861.5" width="13.5" height="24.2" fill="url(#soiB)"/>
<text x="1301.8" y="878.2" font-size="14" fill="#ffffff" textLength="77.2" lengthAdjust="spacingAndGlyphs">News paper</text>
<g stroke="#d0d3dc" stroke-width="1.1"><line x1="1392.4" y1="612" x2="1392.4" y2="893"/>
<line x1="1387.8" y1="612.0" x2="1392.4" y2="612.0"/>
<line x1="1387.8" y1="652.1" x2="1392.4" y2="652.1"/>
<line x1="1387.8" y1="692.3" x2="1392.4" y2="692.3"/>
<line x1="1387.8" y1="732.5" x2="1392.4" y2="732.5"/>
<line x1="1387.8" y1="772.6" x2="1392.4" y2="772.6"/>
<line x1="1387.8" y1="812.8" x2="1392.4" y2="812.8"/>
<line x1="1387.8" y1="852.9" x2="1392.4" y2="852.9"/>
<line x1="1387.8" y1="893.0" x2="1392.4" y2="893.0"/>
</g>
<text x="1392.0" y="916" font-size="14" fill="#ffffff" text-anchor="middle">0</text>
<text x="1430.3" y="916" font-size="14" fill="#ffffff" text-anchor="middle">200</text>
<text x="1468.6" y="916" font-size="14" fill="#ffffff" text-anchor="middle">400</text>
<text x="1506.8" y="916" font-size="14" fill="#ffffff" text-anchor="middle">600</text>
<text x="1545.1" y="916" font-size="14" fill="#ffffff" text-anchor="middle">800</text>
<text x="1583.4" y="916" font-size="14" fill="#ffffff" text-anchor="middle">1000</text>
<g opacity="0.5">
<g fill="none" stroke="#b8bccc" stroke-width="6.2" stroke-linecap="round" stroke-linejoin="round">
<path d="M745.5,832 L745.5,876"/>
<path d="M720,879 L896,879"/>
<circle cx="729.2" cy="869.2" r="13.3"/>
<circle cx="776.8" cy="862.8" r="10"/>
<circle cx="888.5" cy="869.2" r="14.5"/>
<path d="M819.5,857 L819.5,876 M846,857 L846,876"/>
</g>
<g fill="#b8bccc"><circle cx="770.6" cy="835.4" r="5.6"/><circle cx="784.9" cy="835.4" r="5.6"/><circle cx="804.6" cy="847.6" r="5.6"/><circle cx="818.8" cy="847.6" r="5.6"/>
<text x="712.9" y="912.8" font-size="34" font-weight="bold" textLength="193.5" lengthAdjust="spacingAndGlyphs">mostaql.com</text></g>
</g>
</g></svg></body></html>
